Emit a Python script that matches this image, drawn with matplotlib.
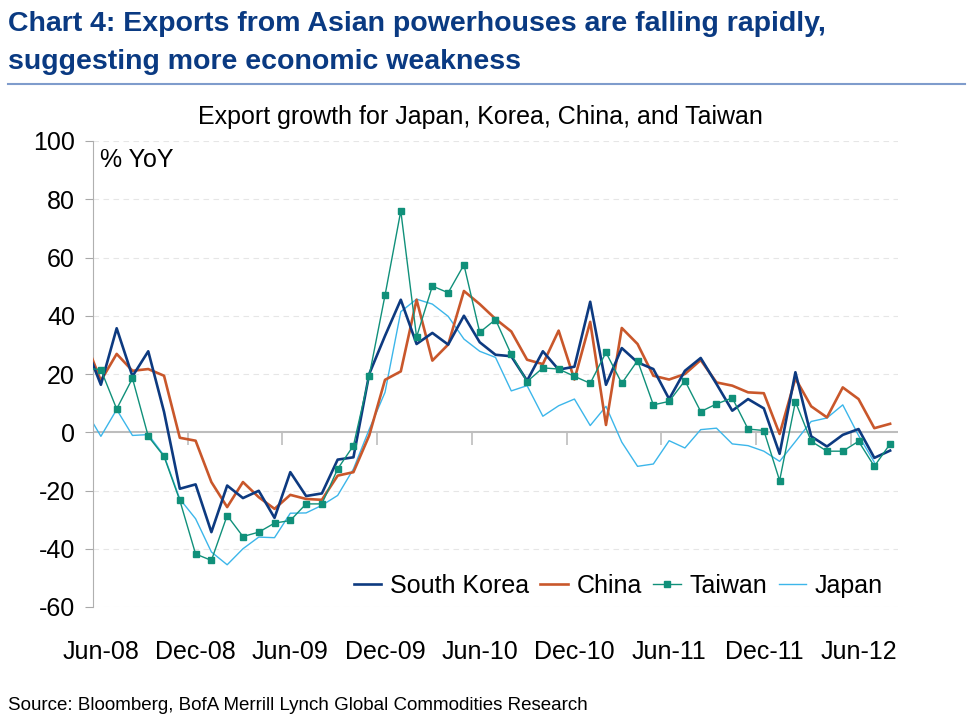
import numpy as np
import matplotlib
matplotlib.use("Agg")
import matplotlib.pyplot as plt
from matplotlib.lines import Line2D

# aylar: May-08 .. Aug-12 (May-08 sadece sol kenarda kesilen çizgi için)
months = ["May-08", "Jun-08", "Jul-08", "Aug-08", "Sep-08", "Oct-08", "Nov-08", "Dec-08",
          "Jan-09", "Feb-09", "Mar-09", "Apr-09", "May-09", "Jun-09", "Jul-09", "Aug-09",
          "Sep-09", "Oct-09", "Nov-09", "Dec-09", "Jan-10", "Feb-10", "Mar-10", "Apr-10",
          "May-10", "Jun-10", "Jul-10", "Aug-10", "Sep-10", "Oct-10", "Nov-10", "Dec-10",
          "Jan-11", "Feb-11", "Mar-11", "Apr-11", "May-11", "Jun-11", "Jul-11", "Aug-11",
          "Sep-11", "Oct-11", "Nov-11", "Dec-11", "Jan-12", "Feb-12", "Mar-12", "Apr-12",
          "May-12", "Jun-12", "Jul-12", "Aug-12"]

korea = [30, 16.3, 35.7, 19.2, 27.8, 7, -19.4, -17.9,
         -34.3, -18.3, -22.6, -20.1, -29.4, -13.7, -21.9, -21, -9.4, -8.6, 20, 33.1,
         45.5, 30.3, 34.1, 30.1, 40, 30.9, 26.6, 26.1, 17.7, 27.8, 21.5, 22.5,
         44.8, 16.3, 28.9, 24, 21.7, 11.4, 21.1, 25.5, 16.6, 7.4, 11.4, 8.2,
         -7.4, 20.6, -1.4, -4.9, -0.9, 1.1, -8.8, -6.3]
china = [31.5, 17.7, 26.9, 21.1, 21.7, 19.4, -1.9, -2.9,
         -17.1, -25.7, -17.1, -22.3, -26.3, -21.5, -22.9, -23.2, -14.9, -13.7, -1.1, 18,
         20.9, 45.5, 24.6, 30.1, 48.5, 44, 38.9, 34.6, 24.9, 23.4, 34.9, 18.1,
         37.9, 2.5, 35.8, 30.3, 19.4, 18.1, 20, 24.8, 17.1, 16, 13.7, 13.4,
         -0.6, 18.5, 8.9, 5.1, 15.4, 11.4, 1.4, 2.9]
taiwan = [22, 21.5, 8.0, 18.5, -1.4, -8.3, -23.4, -41.8,
          -44, -28.6, -35.8, -34.3, -31.2, -30.3, -24.6, -24.6, -12.6, -4.6, 19.4, 47,
          76, 32.7, 50.2, 47.9, 57.5, 34.3, 38.7, 26.7, 17.4, 22.1, 21.7, 19.2,
          16.8, 27.4, 16.8, 24.6, 9.4, 10.6, 17.7, 7.1, 9.7, 11.8, 1.1, 0.6,
          -16.6, 10.5, -3.1, -6.5, -6.5, -3.1, -11.7, -4]
japan = [7.8, -1.4, 7.8, -1.1, -0.8, -8, -22.9, -29.7,
         -41.1, -45.5, -40, -36, -36.2, -27.8, -27.7, -25.1, -21.7, -12.6, 1, 13.7,
         41.4, 45.7, 44, 39.8, 32, 27.8, 25.7, 14.2, 16, 5.5, 9.1, 11.4,
         2.3, 8.9, -3.4, -11.7, -10.9, -2.9, -5.4, 0.9, 1.4, -4, -4.6, -6.5,
         -10, -3.2, 3.7, 4.9, 9.4, -1.1, -10.3, np.nan]

tick_labels = ["Jun-08", "Dec-08", "Jun-09", "Dec-09", "Jun-10", "Dec-10", "Jun-11", "Dec-11", "Jun-12"]

x = np.arange(len(months)) - 1  # Jun-08 = 0

plt.rcParams["font.family"] = ["Liberation Sans", "DejaVu Sans"]
plt.rcParams["axes.unicode_minus"] = False
fs = 18

fig = plt.figure(figsize=(9.73, 7.19), dpi=100)
ax = fig.add_axes([93 / 973, 1 - 607 / 719, (898 - 93) / 973, (607 - 141) / 719])

ax.plot(x, korea, color="#0d3a80", lw=1.9, label="South Korea", zorder=4)
ax.plot(x, china, color="#c9572b", lw=1.9, label="China", zorder=3)
ax.plot(x, taiwan, color="#10907a", lw=1.0, marker="s", ms=3.8, label="Taiwan", zorder=5)
ax.plot(x, japan, color="#3cb6ea", lw=1.0, label="Japan", zorder=2)

ax.set_xlim(-0.5, 50.5)
ax.set_ylim(-60, 100)
ax.set_yticks(np.arange(-60, 101, 20))
ax.tick_params(axis="y", labelsize=fs, length=6, color="#a8a8a8", pad=7)
for v in np.arange(-60, 101, 20):
    if v != 0:
        ax.axhline(v, color="#e6e6e6", lw=0.8, ls=(0, (5, 4)), zorder=0)
ax.axhline(0, color="#bdbdbd", lw=1.5, zorder=1)

lab_pos = [months.index(m) - 1 for m in tick_labels]
ax.set_xticks(lab_pos)
ax.set_xticklabels(tick_labels)
ax.tick_params(axis="x", labelsize=fs, length=0, pad=24)

# tick çizgileri 0 seviyesinde
sec = ax.secondary_xaxis(60 / 160)
sec.set_xticks([p - 0.5 for p in lab_pos[1:]])
sec.set_xticklabels([])
sec.tick_params(axis="x", length=9, color="#bdbdbd", width=1.2)
sec.spines["bottom"].set_visible(False)

for s in ["top", "right", "bottom"]:
    ax.spines[s].set_visible(False)
ax.spines["left"].set_color("#b0b0b0")

ax.text(0.009, 0.985, "% YoY", transform=ax.transAxes, fontsize=fs, va="top", ha="left")

ax.legend(loc="center right", bbox_to_anchor=(1.0, 0.045), ncol=4, frameon=False,
          fontsize=fs, handlelength=1.1, handletextpad=0.35, columnspacing=0.45,
          borderaxespad=0.2)

fig.text(0.008, 1 - 31 / 719, "Chart 4: Exports from Asian powerhouses are falling rapidly,",
         fontweight="bold", fontsize=20.5, color="#0a3a82", va="baseline", ha="left")
fig.text(0.008, 1 - 69 / 719, "suggesting more economic weakness",
         fontweight="bold", fontsize=20.5, color="#0a3a82", va="baseline", ha="left")
fig.add_artist(Line2D([8 / 973, 965 / 973], [1 - 84 / 719, 1 - 84 / 719], color="#7f9ccc", lw=1.5))

fig.text(480 / 973, 1 - 117 / 719, "Export growth for Japan, Korea, China, and Taiwan",
         fontsize=fs, ha="center", va="center")
fig.text(8 / 973, 1 - 705 / 719, "Source: Bloomberg, BofA Merrill Lynch Global Commodities Research",
         fontsize=13.5, ha="left", va="center")

plt.savefig("out.png", dpi=100)
